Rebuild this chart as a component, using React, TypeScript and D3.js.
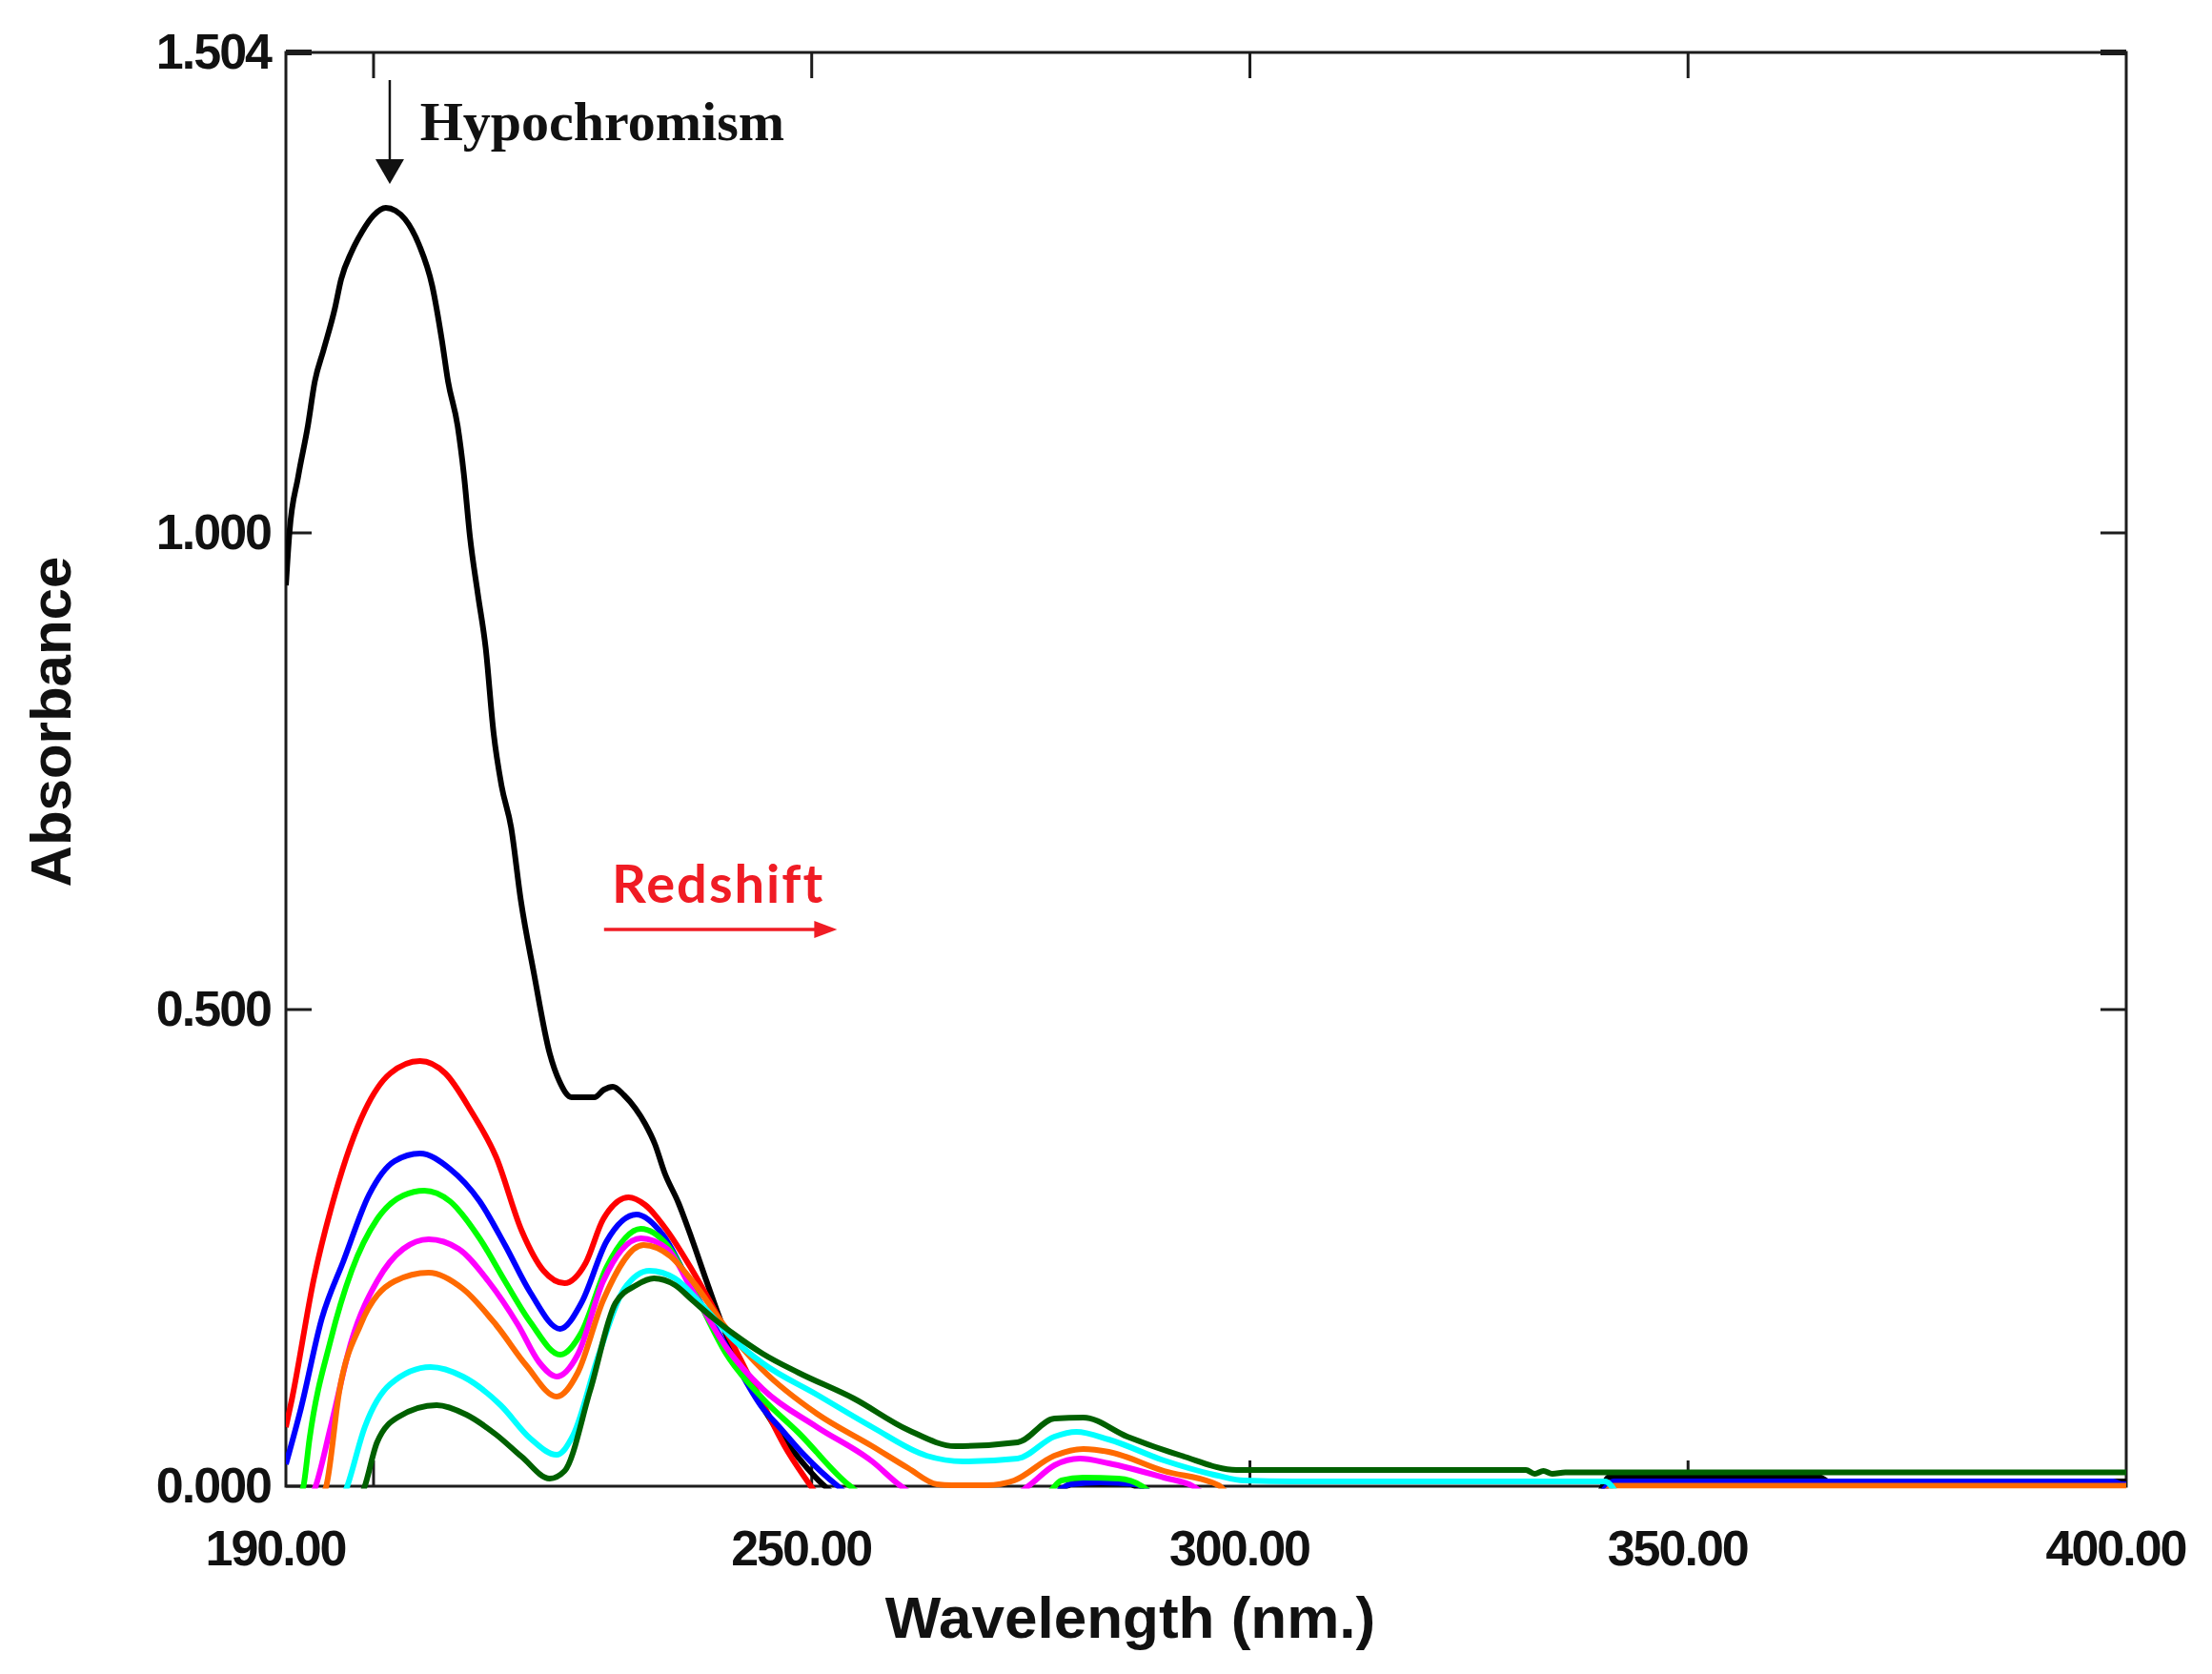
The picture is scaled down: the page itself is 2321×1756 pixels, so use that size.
import React from 'react';
import * as d3 from 'd3';

type Pt = [number, number];

// axis values
const xLabelValues = [190, 250, 300, 350, 400];
const xTickValues = [200, 250, 300, 350];
const yTickValues = [0, 0.5, 1.0, 1.504];

// spectra, [wavelength nm, absorbance]; values below 0 fall off the axis
const blackCurve: Pt[] = [
  [190.0, 0.945], [190.4, 1.0], [191.4, 1.059], [192.5, 1.112], [193.3, 1.159], [194.3, 1.192],
  [195.6, 1.236], [196.3, 1.266], [197.5, 1.295], [198.7, 1.316], [200.0, 1.333], [201.4, 1.341],
  [202.5, 1.338], [203.6, 1.329], [205.2, 1.302], [206.7, 1.259], [207.8, 1.202], [208.5, 1.159],
  [209.6, 1.112], [210.3, 1.062], [211.0, 0.996], [211.9, 0.936], [212.8, 0.879], [213.7, 0.79],
  [214.6, 0.735], [215.7, 0.691], [216.8, 0.615], [218.3, 0.538], [220.1, 0.454], [221.2, 0.425],
  [222.6, 0.408], [225.2, 0.408], [226.3, 0.416], [227.3, 0.419], [228.6, 0.41], [229.9, 0.396],
  [231.0, 0.38], [232.1, 0.359], [233.2, 0.329], [234.8, 0.297], [236.3, 0.26], [238.0, 0.215],
  [239.8, 0.169], [242.2, 0.119], [244.4, 0.083], [246.0, 0.06], [247.7, 0.039], [251.5, 0.0],
  [253, -0.01], [277, -0.01], [280, 0.003], [286, 0.003], [289, -0.01], [339.5, -0.01],
  [341, 0.0095], [365, 0.0095], [366, 0.005], [400, 0.005],
];

const redCurve: Pt[] = [
  [190.0, 0.062], [190.7, 0.092], [193.2, 0.218], [195.6, 0.306], [199.0, 0.394], [201.9, 0.433],
  [205.3, 0.446], [208.2, 0.433], [211.1, 0.394], [214.0, 0.345], [216.9, 0.268], [219.4, 0.226],
  [221.8, 0.213], [224.2, 0.234], [226.2, 0.28], [229.1, 0.303], [231.0, 0.295], [233.5, 0.268],
  [236.4, 0.226], [240.3, 0.161], [243.7, 0.1], [247.1, 0.039], [249.9, 0.0], [251.5, -0.02],
];

const blueCurve: Pt[] = [
  [190.0, 0.023], [191.7, 0.081], [194.1, 0.176], [196.6, 0.237], [199.5, 0.306], [202.4, 0.341],
  [205.3, 0.349], [208.7, 0.333], [212.1, 0.299], [215.0, 0.253], [217.9, 0.203], [221.3, 0.165],
  [223.7, 0.192], [226.6, 0.257], [230.0, 0.285], [233.0, 0.264], [236.4, 0.207], [240.3, 0.146],
  [244.4, 0.082], [246.5, 0.06], [248.5, 0.039], [253.0, 0.0], [254.5, -0.01], [277, -0.01],
  [279.5, 0.002], [283, 0.004], [287, 0.002], [289.5, -0.01], [339.5, -0.01], [341.5, 0.005],
  [398.5, 0.005], [399.5, 0.002], [400, 0.002],
];

const greenCurve: Pt[] = [
  [191.6, -0.01], [192.0, 0.0], [192.7, 0.05], [195.1, 0.153], [197.5, 0.226], [200.4, 0.28],
  [203.4, 0.305], [205.8, 0.31], [208.7, 0.299], [212.1, 0.26], [215.0, 0.215], [217.9, 0.172],
  [221.3, 0.138], [223.7, 0.161], [226.6, 0.23], [230.5, 0.27], [233.5, 0.253], [236.4, 0.207],
  [240.3, 0.138], [244.4, 0.092], [248.5, 0.056], [254.4, 0.0], [256, -0.01], [276.5, -0.01],
  [278.5, 0.006], [281, 0.009], [285, 0.008], [287.7, 0.0], [289, -0.01],
];

const magentaCurve: Pt[] = [
  [193.0, -0.01], [193.4, 0.0], [195.1, 0.062], [197.5, 0.153], [200.4, 0.215], [203.4, 0.249],
  [206.3, 0.259], [209.7, 0.249], [213.1, 0.215], [216.5, 0.169], [218.9, 0.13], [220.9, 0.115],
  [223.3, 0.138], [226.2, 0.215], [230.5, 0.26], [233.5, 0.249], [236.4, 0.205], [240.3, 0.145],
  [244.4, 0.102], [250.6, 0.062], [256.9, 0.026], [260.2, 0.0], [262, -0.01], [273, -0.01],
  [274.7, 0.0], [277.7, 0.022], [280.6, 0.029], [283.9, 0.024], [290.2, 0.009], [293.5, 0.0],
  [295, -0.01],
];

const orangeCurve: Pt[] = [
  [194.2, -0.01], [194.6, 0.0], [196.1, 0.1], [198.5, 0.169], [202.4, 0.215], [206.3, 0.224],
  [210.2, 0.207], [214.0, 0.169], [217.4, 0.127], [220.9, 0.094], [223.3, 0.119], [226.2, 0.195],
  [230.8, 0.253], [233.9, 0.241], [236.4, 0.215], [240.3, 0.165], [244.4, 0.122], [250.6, 0.076],
  [256.9, 0.042], [261.0, 0.019], [264.3, 0.002], [266, 0.001], [270, 0.001], [273.1, 0.006],
  [277.7, 0.032], [281.0, 0.039], [283.9, 0.036], [290.2, 0.016], [296.4, 0.001], [298, -0.01],
  [340, -0.01], [341.5, 0.0005], [400, 0.0005],
];

const cyanCurve: Pt[] = [
  [196.6, -0.01], [197.0, 0.0], [199.0, 0.062], [201.9, 0.107], [206.5, 0.125], [210.2, 0.115],
  [214.5, 0.085], [217.9, 0.05], [220.9, 0.033], [222.8, 0.054], [225.7, 0.138], [228.6, 0.207],
  [231.5, 0.226], [234.4, 0.218], [237.3, 0.192], [241.2, 0.153], [244.4, 0.129], [250.6, 0.096],
  [256.9, 0.062], [263.1, 0.032], [267.3, 0.026], [273.5, 0.029], [277.7, 0.052], [280.2, 0.057],
  [283.9, 0.049], [290.2, 0.027], [296.4, 0.011], [299.3, 0.006], [305, 0.005], [340.5, 0.005],
  [342, -0.01],
];

const darkGreenCurve: Pt[] = [
  [198.6, -0.01], [199.0, 0.0], [200.4, 0.046], [202.9, 0.073], [207.2, 0.085], [210.6, 0.075],
  [214.0, 0.054], [216.9, 0.031], [220.1, 0.008], [221.8, 0.016], [224.7, 0.1], [227.6, 0.192],
  [230.0, 0.211], [232.0, 0.218], [234.4, 0.211], [236.4, 0.195], [238.8, 0.176], [241.2, 0.159],
  [244.4, 0.139], [248.5, 0.119], [254.8, 0.092], [261.0, 0.059], [266.4, 0.042], [273.5, 0.046],
  [277.7, 0.071], [281.0, 0.072], [286.0, 0.052], [292.2, 0.032], [298.5, 0.017], [331.5, 0.017],
  [332.5, 0.013], [333.5, 0.016], [334.5, 0.013], [336, 0.0145], [400, 0.0145],
];

const series = [
  { name: 'black', color: '#000000', points: blackCurve },
  { name: 'red', color: '#ff0000', points: redCurve },
  { name: 'blue', color: '#0000ff', points: blueCurve },
  { name: 'green', color: '#00ff00', points: greenCurve },
  { name: 'magenta', color: '#ff00ff', points: magentaCurve },
  { name: 'orange', color: '#ff6a00', points: orangeCurve },
  { name: 'cyan', color: '#00ffff', points: cyanCurve },
  { name: 'darkgreen', color: '#006000', points: darkGreenCurve },
];

const W = 2321;
const H = 1756;
const margin = { top: 55, right: 90, bottom: 197, left: 300 };

export default function App() {
  const x = d3.scaleLinear().domain([190, 400]).range([margin.left, W - margin.right]);
  const y = d3.scaleLinear().domain([0, 1.504]).range([H - margin.bottom, margin.top]);
  const line = d3.line<Pt>().x((d) => x(d[0])).y((d) => y(d[1])).curve(d3.curveMonotoneX);

  const x0 = x(190), x1 = x(400), y0 = y(0), y1 = y(1.504);
  const tickLen = 27;
  const fmtX = d3.format('.2f');
  const fmtY = d3.format('.3f');
  const axisColor = '#1c1c1c';

  // annotation anchors in data space
  const hypoX = x(201.85);
  const hypoTop = y(1.475);
  const hypoTip = y(1.366);
  const redY = y(0.584);
  const redX0 = x(226.3);
  const redX1 = x(252.9);

  return (
    <svg width={W} height={H} style={{ position: 'absolute', left: 0, top: 0, background: '#fff' }}>
      <defs>
        <clipPath id="plot">
          <rect x={x0} y={y1} width={x1 - x0} height={y0 - y1 + 2.5} />
        </clipPath>
      </defs>
      <rect x={0} y={0} width={W} height={H} fill="#fff" />

      {/* frame */}
      <rect x={x0} y={y1} width={x1 - x0} height={y0 - y1} fill="none" stroke={axisColor} strokeWidth={3} />

      {/* ticks */}
      {xTickValues.map((t) => (
        <g key={`xt${t}`} stroke={axisColor} strokeWidth={3}>
          <line x1={x(t)} x2={x(t)} y1={y1} y2={y1 + tickLen} />
          <line x1={x(t)} x2={x(t)} y1={y0} y2={y0 - tickLen} />
        </g>
      ))}
      {yTickValues.map((t) => (
        <g key={`yt${t}`} stroke={axisColor} strokeWidth={t === 1.504 ? 6 : 3}>
          <line x1={x0} x2={x0 + tickLen} y1={y(t)} y2={y(t)} />
          <line x1={x1} x2={x1 - tickLen} y1={y(t)} y2={y(t)} />
        </g>
      ))}

      {/* tick labels */}
      <g fontFamily="'Liberation Sans', Arial, sans-serif" fontWeight="bold" fontSize={52} fill="#111" letterSpacing={-2}>
        {xLabelValues.map((t) => (
          <text key={`xl${t}`} x={x(t) - 11} y={y0 + 83} textAnchor="middle">
            {fmtX(t)}
          </text>
        ))}
        {yTickValues.map((t) => (
          <text key={`yl${t}`} x={x0 - 16} y={y(t) + 17} textAnchor="end">
            {fmtY(t)}
          </text>
        ))}
      </g>

      {/* axis titles */}
      <text x={1186} y={1718} textAnchor="middle" fontFamily="'Liberation Sans', Arial, sans-serif" fontWeight="bold" fontSize={62} fill="#111">
        Wavelength (nm.)
      </text>
      <text transform="translate(74, 757) rotate(-90)" textAnchor="middle" fontFamily="'Liberation Sans', Arial, sans-serif" fontWeight="bold" fontSize={60} fill="#111">
        Absorbance
      </text>

      {/* spectra */}
      <g clipPath="url(#plot)" fill="none" strokeWidth={6} strokeLinejoin="round">
        {series.map((s) => (
          <path key={s.name} d={line(s.points) ?? ''} stroke={s.color} />
        ))}
      </g>

      {/* Hypochromism annotation */}
      <line x1={hypoX} x2={hypoX} y1={hypoTop} y2={hypoTip - 20} stroke="#111" strokeWidth={2.5} />
      <path d={`M${hypoX - 15},${hypoTip - 26} L${hypoX + 15},${hypoTip - 26} L${hypoX},${hypoTip} Z`} fill="#111" />
      <text x={x(205.3)} y={y(1.412)} fontFamily="'Liberation Serif', 'Times New Roman', serif" fontWeight="bold" fontSize={58} fill="#111">
        Hypochromism
      </text>

      {/* Redshift annotation */}
      <text x={x(227.2)} y={y(0.612)} fontFamily="Lato, 'Open Sans', sans-serif" fontWeight="bold" fontSize={56} letterSpacing={2} fill="#f01c24">
        Redshift
      </text>
      <line x1={redX0} x2={redX1 - 20} y1={redY} y2={redY} stroke="#f01c24" strokeWidth={3.5} />
      <path d={`M${redX1 - 24},${redY - 9} L${redX1},${redY} L${redX1 - 24},${redY + 9} Z`} fill="#f01c24" />
    </svg>
  );
}
